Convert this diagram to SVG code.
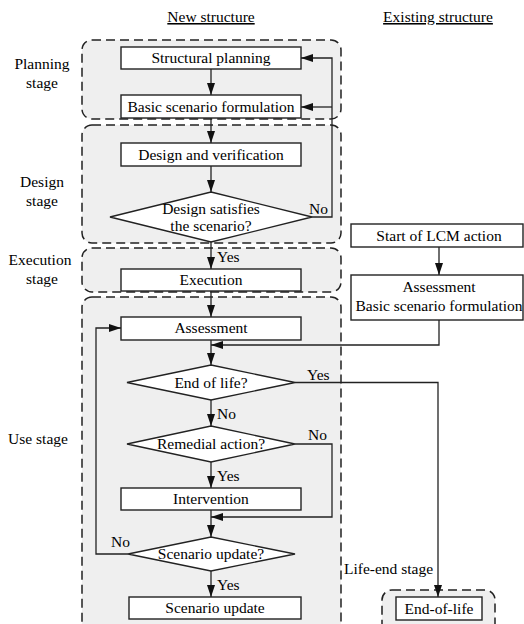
<svg xmlns="http://www.w3.org/2000/svg" width="524" height="624" viewBox="0 0 524 624">
<style>
text{font-family:'Liberation Serif','Times New Roman',serif;font-size:15.5px;fill:#000}
.c{text-anchor:middle}
.stage{fill:#efefef;stroke:#222;stroke-width:1.5;stroke-dasharray:9 5}
.box{fill:#fff;stroke:#222;stroke-width:1.4}
.ln{fill:none;stroke:#222;stroke-width:1.3}
.ul{text-decoration:underline}
</style>
<defs>
<marker id="ah" markerWidth="13" markerHeight="10" refX="12" refY="4" orient="auto" markerUnits="userSpaceOnUse">
<path d="M0,0 L12,4 L0,8 Z" fill="#111"/>
</marker>
</defs>
<rect width="524" height="624" fill="#fff"/>
<text class="c ul" x="211" y="22">New structure</text>
<text class="c ul" x="438" y="22">Existing structure</text>
<g id="stages">
<rect class="stage" x="82" y="40" width="259" height="79" rx="10"/>
<rect class="stage" x="82" y="125" width="259" height="118" rx="10"/>
<rect class="stage" x="82" y="248" width="259" height="44" rx="10"/>
<rect class="stage" x="82" y="297" width="259" height="335" rx="10"/>
<rect class="stage" x="382" y="590" width="113" height="44" rx="10"/>
<text class="c" x="42" y="69">Planning</text><text class="c" x="42" y="88">stage</text>
<text class="c" x="42" y="187">Design</text><text class="c" x="42" y="206">stage</text>
<text class="c" x="40" y="265">Execution</text><text class="c" x="42" y="284">stage</text>
<text class="c" x="38" y="444">Use stage</text>
<text x="344" y="574">Life-end stage</text>
</g>
<g id="n1"><rect class="box" x="121" y="47" width="180" height="22"/><text class="c" x="211" y="63">Structural planning</text></g>
<g id="n2"><rect class="box" x="121" y="95" width="180" height="23"/><text class="c" x="211" y="112">Basic scenario formulation</text></g>
<g id="n3"><rect class="box" x="121" y="143" width="180" height="23"/><text class="c" x="211" y="160">Design and verification</text></g>
<g id="n4"><path class="box" d="M211,192 L312,217 L211,242 L110,217 Z"/><text class="c" x="211" y="214">Design satisfies</text><text class="c" x="211" y="231">the scenario?</text></g>
<g id="n5"><rect class="box" x="121" y="269" width="180" height="22"/><text class="c" x="211" y="285">Execution</text></g>
<g id="n6"><rect class="box" x="121" y="317" width="180" height="23"/><text class="c" x="211" y="333">Assessment</text></g>
<g id="n7"><path class="box" d="M211,365 L295,382.5 L211,400 L127,382.5 Z"/><text class="c" x="211" y="388">End of life?</text></g>
<g id="n8"><path class="box" d="M211,426 L295,444 L211,462 L127,444 Z"/><text class="c" x="211" y="449">Remedial action?</text></g>
<g id="n9"><rect class="box" x="121" y="488" width="180" height="22"/><text class="c" x="211" y="504">Intervention</text></g>
<g id="n10"><path class="box" d="M211,537 L295,554 L211,571 L128,554 Z"/><text class="c" x="211" y="559">Scenario update?</text></g>
<g id="n11"><rect class="box" x="129" y="597" width="172" height="22"/><text class="c" x="215" y="613">Scenario update</text></g>
<g id="n12"><rect class="box" x="351" y="224" width="172" height="23"/><text class="c" x="439" y="241">Start of LCM action</text></g>
<g id="n13"><rect class="box" x="351" y="275" width="172" height="45"/><text class="c" x="439" y="292">Assessment</text><text class="c" x="439" y="311">Basic scenario formulation</text></g>
<g id="n14"><rect class="box" x="396" y="597" width="86" height="23"/><text class="c" x="439" y="614">End-of-life</text></g>
<g id="connectors">
<path class="ln" d="M211,69 V95" marker-end="url(#ah)"/>
<path class="ln" d="M211,118 V143" marker-end="url(#ah)"/>
<path class="ln" d="M211,166 V192" marker-end="url(#ah)"/>
<path class="ln" d="M211,242 V269" marker-end="url(#ah)"/>
<path class="ln" d="M211,291 V317" marker-end="url(#ah)"/>
<path class="ln" d="M211,340 V365" marker-end="url(#ah)"/>
<path class="ln" d="M211,400 V426" marker-end="url(#ah)"/>
<path class="ln" d="M211,462 V488" marker-end="url(#ah)"/>
<path class="ln" d="M211,510 V537" marker-end="url(#ah)"/>
<path class="ln" d="M211,571 V597" marker-end="url(#ah)"/>
<path class="ln" d="M312,217 H332 V58 H301" marker-end="url(#ah)"/>
<path class="ln" d="M332,107 H301" marker-end="url(#ah)"/>
<path class="ln" d="M439,247 V275" marker-end="url(#ah)"/>
<path class="ln" d="M439,320 V345 H211" marker-end="url(#ah)"/>
<path class="ln" d="M295,382.5 H438 V597" marker-end="url(#ah)"/>
<path class="ln" d="M295,444 H332 V517 H211" marker-end="url(#ah)"/>
<path class="ln" d="M128,554 H96 V328 H121" marker-end="url(#ah)"/>
<text x="217" y="262">Yes</text>
<text x="309" y="214">No</text>
<text x="307" y="380">Yes</text>
<text x="217" y="419">No</text>
<text x="308" y="440">No</text>
<text x="217" y="481">Yes</text>
<text x="111" y="547">No</text>
<text x="217" y="590">Yes</text>
</g>
</svg>
